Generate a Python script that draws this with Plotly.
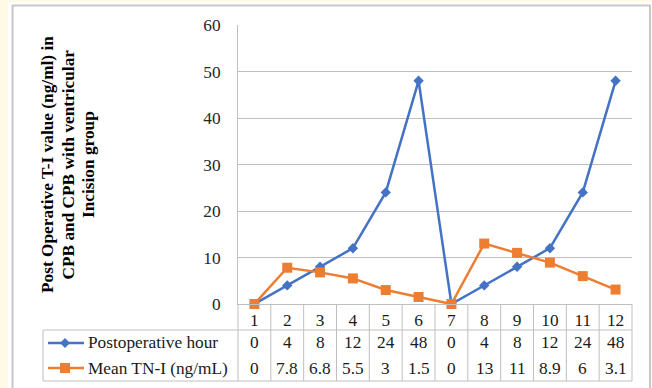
import plotly.graph_objects as go

categories = ["1", "2", "3", "4", "5", "6", "7", "8", "9", "10", "11", "12"]
postop_hour = [0, 4, 8, 12, 24, 48, 0, 4, 8, 12, 24, 48]
mean_tni = [0, 7.8, 6.8, 5.5, 3, 1.5, 0, 13, 11, 8.9, 6, 3.1]
postop_labels = ["0", "4", "8", "12", "24", "48", "0", "4", "8", "12", "24", "48"]
tni_labels = ["0", "7.8", "6.8", "5.5", "3", "1.5", "0", "13", "11", "8.9", "6", "3.1"]
series_names = ["Postoperative hour", "Mean TN-I (ng/mL)"]
y_title_lines = ["Post Operative T-I value (ng/ml) in", "CPB and CPB with ventricular", "Incision group"]

BLUE = "#4472C4"
ORANGE = "#ED7D31"
GRID = "#BFBFBF"
FONT = "Liberation Serif, Times New Roman, serif"
FS = 17.3

W, H = 652, 388
L, R, T, B = 238, 20, 25, 84
PW, PH = W - L - R, H - T - B


def px(xp):
    return (xp - L) / PW


def py(yp):
    return (H - B - yp) / PH


xs = list(range(len(categories)))

fig = go.Figure()
fig.add_trace(go.Scatter(x=xs, y=postop_hour, mode="lines+markers", name=series_names[0],
                         line=dict(color=BLUE, width=2.5),
                         marker=dict(symbol="diamond", size=8, color=BLUE),
                         cliponaxis=False, showlegend=False))
fig.add_trace(go.Scatter(x=xs, y=mean_tni, mode="lines+markers", name=series_names[1],
                         line=dict(color=ORANGE, width=2.5),
                         marker=dict(symbol="square", size=10, color=ORANGE),
                         cliponaxis=False, showlegend=False))

shapes = []
# white figure frame and grey border
shapes.append(dict(type="rect", xref="paper", yref="paper", x0=px(8), x1=px(660), y0=py(2), y1=py(400),
                   fillcolor="white", line=dict(width=0), layer="below"))
shapes.append(dict(type="rect", xref="paper", yref="paper", x0=px(12.5), x1=px(650), y0=py(5.5), y1=py(395),
                   fillcolor="rgba(0,0,0,0)", line=dict(color="#C8C8C8", width=2), layer="below"))

# data table lines
y_top, y_mid, y_bot = H - B, 330, 381
n = len(categories)
for k in range(n + 1):
    shapes.append(dict(type="line", xref="paper", yref="paper", x0=k / n, x1=k / n,
                       y0=py(y_top), y1=py(y_bot), line=dict(color=GRID, width=1)))
for yy in (y_mid, y_bot):
    shapes.append(dict(type="line", xref="paper", yref="paper", x0=px(43), x1=1,
                       y0=py(yy), y1=py(yy), line=dict(color=GRID, width=1)))
shapes.append(dict(type="line", xref="paper", yref="paper", x0=px(43), x1=px(43),
                   y0=py(y_mid), y1=py(y_bot), line=dict(color=GRID, width=1)))

# legend keys inside table
row_y = [343, 368]
colors = [BLUE, ORANGE]
for i, c in enumerate(colors):
    yy = row_y[i]
    shapes.append(dict(type="line", xref="paper", yref="paper", x0=px(48), x1=px(84),
                       y0=py(yy), y1=py(yy), line=dict(color=c, width=2.5)))
cx = 65
shapes.append(dict(type="path", xref="paper", yref="paper",
                   path="M {a},{b} L {c},{d} L {e},{f} L {g},{h} Z".format(
                       a=px(cx - 5), b=py(row_y[0]), c=px(cx), d=py(row_y[0] - 5),
                       e=px(cx + 5), f=py(row_y[0]), g=px(cx), h=py(row_y[0] + 5)),
                   fillcolor=BLUE, line=dict(width=0)))
shapes.append(dict(type="rect", xref="paper", yref="paper", x0=px(cx - 5), x1=px(cx + 5),
                   y0=py(row_y[1] - 5), y1=py(row_y[1] + 5), fillcolor=ORANGE, line=dict(width=0)))

annotations = []
for i, lab in enumerate(series_names):
    annotations.append(dict(x=px(85.5), y=py(row_y[i]), xref="paper", yref="paper", text=lab,
                            showarrow=False, xanchor="left", yanchor="middle",
                            font=dict(family=FONT, size=FS, color="#1a1a1a")))
for rowi, labels in enumerate([postop_labels, tni_labels]):
    for j, t in enumerate(labels):
        annotations.append(dict(x=xs[j], y=py(row_y[rowi]), xref="x", yref="paper", text=t,
                                showarrow=False, xanchor="center", yanchor="middle",
                                font=dict(family=FONT, size=FS, color="#1a1a1a")))
for i, (lx, line) in enumerate(zip([47, 67.5, 88], y_title_lines)):
    annotations.append(dict(x=px(lx), y=py(165), xref="paper", yref="paper", text="<b>" + line + "</b>",
                            showarrow=False, textangle=-90, xanchor="center", yanchor="middle",
                            font=dict(family=FONT, size=FS, color="black")))

fig.update_layout(
    width=W, height=H,
    margin=dict(l=L, r=R, t=T, b=B, pad=0),
    paper_bgcolor="#FFFAE6",
    plot_bgcolor="white",
    shapes=shapes,
    annotations=annotations,
    font=dict(family=FONT, size=FS, color="#333333"),
    xaxis=dict(range=[-0.5, n - 0.5], tickvals=xs, ticktext=categories, showgrid=False,
               zeroline=False, showline=True, linecolor=GRID, linewidth=1, ticks="",
               tickfont=dict(family=FONT, size=FS, color="#1a1a1a"), fixedrange=True),
    yaxis=dict(range=[0, 60], dtick=10, showgrid=True, gridcolor=GRID, gridwidth=1,
               zeroline=False, showline=True, linecolor=GRID, linewidth=1, ticks="",
               ticklabelstandoff=13,
               tickfont=dict(family=FONT, size=FS, color="#262626"), fixedrange=True),
)

fig.write_html("out.html", config={"displayModeBar": False},
               post_script="document.body.style.margin='0';document.body.style.overflow='hidden';")
